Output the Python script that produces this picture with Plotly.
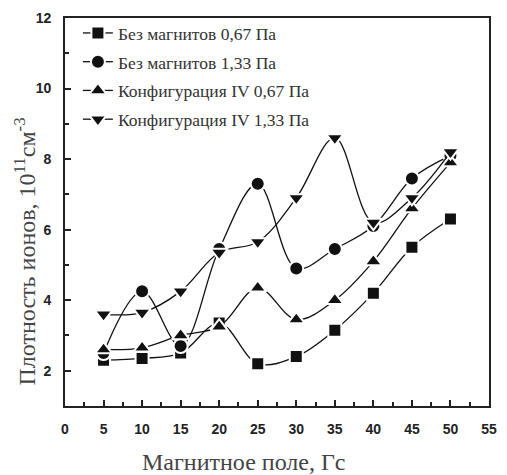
import plotly.graph_objects as go

x_vals = [5, 10, 15, 20, 25, 30, 35, 40, 45, 50]
sq_067 = [2.3, 2.35, 2.5, 3.35, 2.2, 2.4, 3.15, 4.2, 5.5, 6.3]
circ_133 = [2.5, 4.25, 2.7, 5.45, 7.3, 4.9, 5.45, 6.1, 7.45, 8.1]
tri_up_067 = [2.6, 2.65, 3.0, 3.25, 4.35, 3.45, 4.0, 5.1, 6.6, 7.9]
tri_dn_133 = [3.6, 3.65, 4.25, 5.35, 5.65, 6.9, 8.6, 6.2, 6.9, 8.2]

names = ["Без магнитов 0,67 Па", "Без магнитов 1,33 Па",
         "Конфигурация IV 0,67 Па", "Конфигурация IV 1,33 Па"]
series = [sq_067, circ_133, tri_up_067, tri_dn_133]
symbols = ["square", "circle", "triangle-up", "triangle-down"]
sizes = [13, 14, 15, 15]

serif = "Liberation Serif, Times New Roman, serif"
sans = "Liberation Sans, Arial, sans-serif"

fig = go.Figure()
for i, (name, ys, sym, sz) in enumerate(zip(names, series, symbols, sizes)):
    fig.add_trace(go.Scatter(
        x=x_vals, y=ys, name=name, mode="lines+markers", legendgroup=f"g{i}",
        line=dict(color="#111", width=1.3, shape="spline", smoothing=1.0),
        marker=dict(symbol=sym, size=sz, color="#111",
                    line=dict(color="white", width=2)),
    ))

L, R, T, B = 65, 15, 10, 69
W, H = 507, 475
ph = H - T - B
pw = W - L - R

fig.update_layout(
    width=W, height=H,
    margin=dict(l=L, r=R, t=T, b=B),
    paper_bgcolor="white", plot_bgcolor="white",
    showlegend=True,
    legend=dict(x=(78 - L) / pw, y=1 - (7 - T) / ph, xanchor="left", yanchor="top",
                bgcolor="rgba(0,0,0,0)", traceorder="grouped",
                font=dict(family=serif, size=17.5, color="#333"),
                tracegroupgap=3, itemwidth=30),
    xaxis=dict(range=[0, 55], tickmode="array",
               tickvals=[0, 5, 10, 15, 20, 25, 30, 35, 40, 45, 50, 55],
               ticks="inside", ticklen=6, tickwidth=1.5, tickcolor="#222",
               minor=dict(ticks="inside", ticklen=4, dtick=2.5, tick0=0, tickcolor="#222"),
               showline=True, linecolor="#222", linewidth=1.8, mirror=True,
               showgrid=False, zeroline=False, ticklabelstandoff=9,
               tickfont=dict(family=sans, size=14, color="#222", weight="bold")),
    yaxis=dict(range=[1, 12], tickmode="array", tickvals=[2, 4, 6, 8, 10, 12],
               ticks="inside", ticklen=6, tickwidth=1.5, tickcolor="#222",
               minor=dict(ticks="inside", ticklen=4, dtick=1, tick0=0, tickcolor="#222"),
               showline=True, linecolor="#222", linewidth=1.8, mirror=True,
               showgrid=False, zeroline=False, ticklabelstandoff=9,
               tickfont=dict(family=sans, size=14, color="#222", weight="bold")),
    annotations=[
        dict(text="Магнитное поле, Гс", xref="paper", yref="paper",
             x=(245 - L) / pw, y=-(463 - (T + ph)) / ph, xanchor="center", yanchor="middle",
             showarrow=False, font=dict(family=serif, size=24, color="#444")),
        dict(text="Плотность ионов, 10<sup>11</sup>см<sup>-3</sup>", xref="paper", yref="paper",
             x=-(L - 25) / pw, y=(T + ph - 248) / ph, xanchor="center", yanchor="middle", textangle=-90,
             showarrow=False, font=dict(family=serif, size=24, color="#444")),
    ],
)

fig.write_html("out.html", config={"displayModeBar": False})

with open("out.html", "r", encoding="utf-8") as f:
    html = f.read()
html = html.replace("<head>", "<head><style>html,body{margin:0;padding:0;overflow:hidden;}</style>", 1)
with open("out.html", "w", encoding="utf-8") as f:
    f.write(html)
